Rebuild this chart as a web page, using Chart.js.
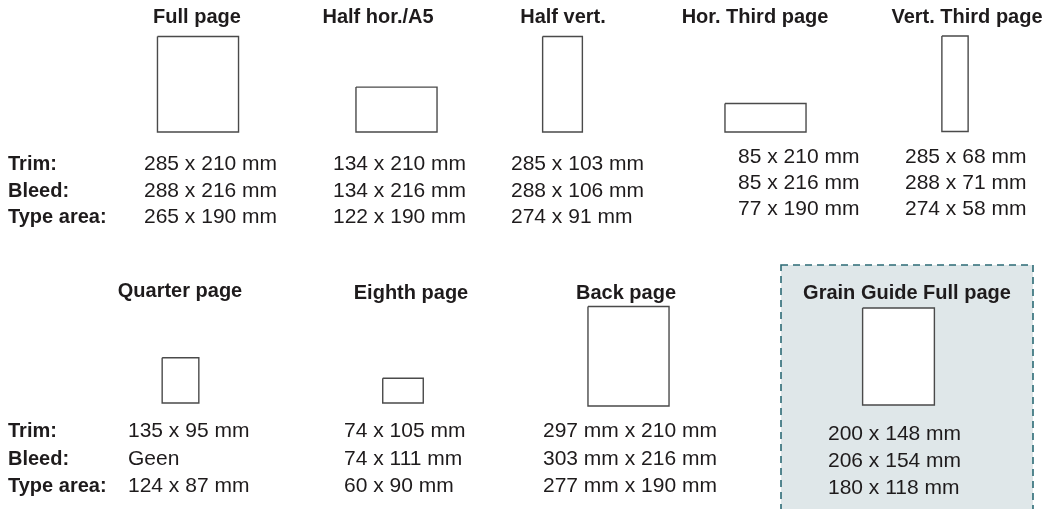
<!DOCTYPE html>
<html>
<head>
<meta charset="utf-8">
<script src="https://cdn.jsdelivr.net/npm/chart.js@4.4.1/dist/chart.umd.min.js"></script>
<style>
  html, body { margin: 0; padding: 0; background: #fff; }
  #wrap { position: relative; width: 1061px; height: 509px; }
</style>
</head>
<body>
<div id="wrap"><canvas id="formats"></canvas></div>
<script>
// ad formats, sizes as "height x width" in mm
const pageNames = ["Full page", "Half hor./A5", "Half vert.", "Hor. Third page", "Vert. Third page",
    "Quarter page", "Eighth page", "Back page", "Grain Guide Full page"];
const trimSizes = [[285, 210], [134, 210], [285, 103], [85, 210], [285, 68], [135, 95], [74, 105], [297, 210], [200, 148]];
const bleedSizes = [[288, 216], [134, 216], [288, 106], [85, 216], [288, 71], null, [74, 111], [303, 216], [206, 154]];
const typeAreaSizes = [[265, 190], [122, 190], [274, 91], [77, 190], [274, 58], [124, 87], [60, 90], [277, 190], [180, 118]];
const unitAfterEach = [false, false, false, false, false, false, false, true, false];
const rowLabels = ["Trim:", "Bleed:", "Type area:"];
const noBleedText = "Geen";

// layout (pixels): where each format sits on the sheet
const layout = [
    { cx: 198, bottom: 132, k: [0.386, 0.335], titleX: 197, titleY: 23, textX: 144, lines: [170, 197, 223] },
    { cx: 396.5, bottom: 132, k: [0.386, 0.335], titleX: 378, titleY: 23, textX: 333, lines: [170, 197, 223] },
    { cx: 562.5, bottom: 132, k: [0.386, 0.335], titleX: 563, titleY: 23, textX: 511, lines: [170, 197, 223] },
    { cx: 765.5, bottom: 132, k: [0.386, 0.335], titleX: 755, titleY: 23, textX: 738, lines: [163, 189, 215] },
    { cx: 955, bottom: 131.5, k: [0.386, 0.335], titleX: 967, titleY: 23, textX: 905, lines: [163, 189, 215] },
    { cx: 180.5, bottom: 403, k: [0.386, 0.335], titleX: 180, titleY: 297, textX: 128, lines: [437, 465, 492] },
    { cx: 403, bottom: 403, k: [0.386, 0.335], titleX: 411, titleY: 299, textX: 344, lines: [437, 465, 492] },
    { cx: 628.5, bottom: 406, k: [0.386, 0.335], titleX: 626, titleY: 299, textX: 543, lines: [437, 465, 492] },
    { cx: 898.5, bottom: 405, k: [0.485, 0.485], titleX: 907, titleY: 299, textX: 828, lines: [440, 467, 494] }
];
const labelRows = [[170, 197, 223], [437, 465, 492]];
const grainPanel = { x0: 781, x1: 1033, y0: 265, y1: 520 };

const textColor = "#1e1b1c";
const boldFont = "bold 20px 'Liberation Sans', Arial, sans-serif";
const normalFont = "21px 'Liberation Sans', Arial, sans-serif";

function sizeText(size, i) {
    if (!size) return noBleedText;
    if (unitAfterEach[i]) return `${size[0]} mm x ${size[1]} mm`;
    return `${size[0]} x ${size[1]} mm`;
}

function pageOutline(i) {
    const l = layout[i];
    const h = trimSizes[i][0] * l.k[1];
    const w = trimSizes[i][1] * l.k[0];
    const x0 = l.cx - w / 2, x1 = l.cx + w / 2;
    const y0 = l.bottom - h, y1 = l.bottom;
    return [{ x: x0, y: y0 }, { x: x1, y: y0 }, { x: x1, y: y1 }, { x: x0, y: y1 }, { x: x0, y: y0 }];
}

const datasets = pageNames.map((name, i) => ({
    label: name,
    data: pageOutline(i),
    showLine: true,
    borderColor: "#4a4a4a",
    borderWidth: 1.4,
    backgroundColor: "#ffffff",
    fill: "shape",
    pointRadius: 0,
    tension: 0
}));

const sheetPlugin = {
    id: "sheet",
    beforeDatasetsDraw(chart) {
        const { ctx, scales: { x, y } } = chart;
        const px0 = x.getPixelForValue(grainPanel.x0), px1 = x.getPixelForValue(grainPanel.x1);
        const py0 = y.getPixelForValue(grainPanel.y0), py1 = y.getPixelForValue(grainPanel.y1);
        ctx.save();
        ctx.fillStyle = "#dfe7e9";
        ctx.fillRect(px0, py0, px1 - px0, py1 - py0);
        ctx.strokeStyle = "#2c6b76";
        ctx.lineWidth = 1.6;
        ctx.setLineDash([7, 5]);
        ctx.strokeRect(px0, py0, px1 - px0, py1 - py0);
        ctx.restore();
    },
    afterDatasetsDraw(chart) {
        const { ctx, scales: { x, y } } = chart;
        ctx.save();
        ctx.fillStyle = textColor;
        ctx.textBaseline = "alphabetic";

        // titles
        ctx.font = boldFont;
        ctx.textAlign = "center";
        pageNames.forEach((name, i) => {
            ctx.fillText(name, x.getPixelForValue(layout[i].titleX), y.getPixelForValue(layout[i].titleY));
        });

        // row labels
        ctx.textAlign = "left";
        labelRows.forEach(rows => {
            rowLabels.forEach((lbl, r) => {
                ctx.fillText(lbl, x.getPixelForValue(8), y.getPixelForValue(rows[r]));
            });
        });

        // sizes
        ctx.font = normalFont;
        pageNames.forEach((name, i) => {
            const l = layout[i];
            const texts = [sizeText(trimSizes[i], i), sizeText(bleedSizes[i], i), sizeText(typeAreaSizes[i], i)];
            texts.forEach((t, r) => {
                ctx.fillText(t, x.getPixelForValue(l.textX), y.getPixelForValue(l.lines[r]));
            });
        });
        ctx.restore();
    }
};

new Chart(document.getElementById("formats"), {
    type: "scatter",
    data: { datasets: datasets },
    options: {
        responsive: true,
        maintainAspectRatio: false,
        animation: false,
        layout: { padding: 0 },
        scales: {
            x: { type: "linear", display: false, min: 0, max: 1061 },
            y: { type: "linear", display: false, min: 0, max: 509, reverse: true }
        },
        plugins: {
            legend: { display: false },
            tooltip: { enabled: false }
        }
    },
    plugins: [sheetPlugin]
});
</script>
</body>
</html>
